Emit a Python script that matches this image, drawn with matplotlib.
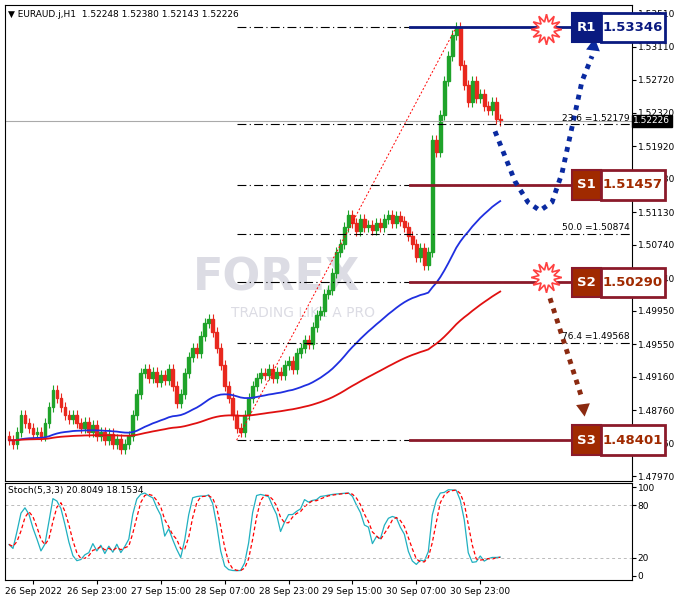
import numpy as np, pandas as pd
import matplotlib
matplotlib.use("Agg")
import matplotlib.pyplot as plt
from matplotlib.patches import Rectangle

closes = [1.4840,1.4835,1.4850,1.4870,1.4860,
 1.4855,1.4848,1.4850,1.4845,1.4860,1.4880,1.4900,
 1.4890,1.4880,1.4870,1.4865,1.4870,1.4860,1.4855,1.4862,1.4850,1.4858,
 1.4845,1.4850,1.4840,1.4848,1.4836,1.4842,1.4830,1.4835,1.4845,1.4870,
 1.4895,1.4920,1.4925,1.4915,1.4922,1.4910,1.4918,1.4912,
 1.4925,1.4905,1.4885,1.4895,1.4920,1.4940,1.4950,1.4945,
 1.4965,1.4980,1.4985,1.4970,1.4950,1.4930,
 1.4905,1.4890,1.4870,1.4855,1.4850,1.4870,
 1.4890,1.4905,1.4915,1.4920,1.4918,1.4925,1.4915,1.4922,1.4918,1.4930,
 1.4935,1.4925,1.4945,1.4950,1.4960,1.4955,1.4975,1.4990,
 1.4995,1.5015,1.5020,1.5040,1.5065,1.5075,1.5095,1.5110,1.5100,
 1.5090,1.5105,1.5095,1.5098,1.5092,1.5100,1.5095,1.5105,1.5110,1.5100,1.5108,1.5102,1.5095,
 1.5085,1.5075,1.5060,1.5070,1.5050,1.5065,
 1.5200,
 1.5185,1.5230,1.5270,1.5300,1.5325,
 1.5335,
 1.5290,1.5265,1.5245,1.5270,1.5250,1.5255,1.5240,1.5235,1.5245,1.5225,1.52226]
first_open = 1.4845
wick = 0.0006
yticks = [1.53510,1.53110,1.52720,1.52320,1.51920,1.51530,1.51130,1.50740,1.50340,
          1.49950,1.49550,1.49160,1.48760,1.48360,1.47970]
xlabels = ["26 Sep 2022","26 Sep 23:00","27 Sep 15:00","28 Sep 07:00","28 Sep 23:00",
           "29 Sep 15:00","30 Sep 07:00","30 Sep 23:00"]
xlabel_pos = [6,22,38,54,70,86,102,118]
levels = {"R1":1.53346,"S1":1.51457,"S2":1.50290,"S3":1.48401}
fib_low, fib_high = 1.4840, 1.5335
fib_pct = [0.0,23.6,38.2,50.0,61.8,76.4,100.0]
fib_show = {23.6:"23.6 =1.52179",50.0:"50.0 =1.50874",76.4:"76.4 =1.49568"}
current = 1.52226

c = np.array(closes); n = len(c)
o = np.concatenate([[first_open], c[:-1]])
h = np.maximum(o,c)+wick; l = np.minimum(o,c)-wick
s = pd.Series(c)
ma_blue = s.ewm(span=58, adjust=False).mean()
ma_red = s.ewm(span=140, adjust=False).mean()
hh = pd.Series(h).rolling(5,min_periods=1).max(); ll = pd.Series(l).rolling(5,min_periods=1).min()
k = ((s-ll).rolling(3,min_periods=1).sum()/(hh-ll).rolling(3,min_periods=1).sum()*100)
dline = k.rolling(3,min_periods=1).mean()

W,H = 678,603
fig = plt.figure(figsize=(W/100,H/100), dpi=100)
ax = fig.add_axes([5/W, 1-481/H, 627/W, 476/H])
ax2 = fig.add_axes([5/W, 1-580/H, 627/W, 97/H])
XL = (-1, 156)
ax.set_xlim(*XL); ax.set_ylim(1.47911, 1.53613)
def px(x): return XL[0] + (x-5)/627*(XL[1]-XL[0])

ax.axhline(current, color="#aaaaaa", lw=0.8)
ax.text(0.30, 0.40, "FOREX", transform=ax.transAxes, fontsize=32, fontweight="bold", color="#dcdce4", zorder=0)
ax.text(0.36, 0.345, "TRADING LIKE A PRO", transform=ax.transAxes, fontsize=10, color="#dcdce4", zorder=0)
for i in range(n):
    col = "#1fa32a" if c[i] >= o[i] else "#e8281e"
    ax.vlines(i, l[i], h[i], color=col, lw=0.8)
    ax.add_patch(Rectangle((i-0.35, min(o[i],c[i])), 0.7, max(abs(c[i]-o[i]),0.00005), color=col))
ax.plot(range(n), ma_blue, color="#1f2fe0", lw=1.3)
ax.plot(range(n), ma_red, color="#e01010", lw=1.3)
ilow = 57; ihigh = 112
ax.plot([ilow, ihigh], [fib_low, fib_high], color="red", ls=(0,(2,2)), lw=0.7)
for p in fib_pct:
    v = fib_high - (fib_high-fib_low)*p/100
    ax.plot([ilow, XL[1]], [v, v], color="black", ls=(0,(8,3,1,3)), lw=0.8)
    if p in fib_show:
        ax.text(XL[1]-0.5, v+0.0002, fib_show[p], fontsize=6.5, ha="right", va="bottom")
lcol = {"R1":"#0a1a80","S1":"#8b1a2a","S2":"#8b1a2a","S3":"#8b1a2a"}
fill = {"R1":"#0a1a80","S1":"#a02a00","S2":"#a02a00","S3":"#a02a00"}
for name,v in levels.items():
    ax.plot([px(410), px(572)], [v,v], color=lcol[name], lw=2)
    ax.add_patch(Rectangle((px(572), v-0.00175), px(601)-px(572), 0.0035, fc=fill[name], ec=lcol[name], lw=1.5, clip_on=False, zorder=5))
    ax.add_patch(Rectangle((px(601), v-0.00175), px(665)-px(601), 0.0035, fc="white", ec=lcol[name], lw=2, clip_on=False, zorder=5))
    ax.text(px(586.5), v, name, color="white", fontsize=9.5, fontweight="bold", ha="center", va="center", zorder=6, clip_on=False)
    ax.text(px(633), v, f"{v:.5f}", color=lcol[name] if name=="R1" else "#a02a00", fontsize=9.5, fontweight="bold", ha="center", va="center", zorder=6, clip_on=False)
for yv in [1.5332, 1.5035]:
    ax.plot([px(546)], [yv], marker=(12,1,0), ms=22, mfc="white", mec="#ff4040", mew=1.2, zorder=4)
xs_b = [px(x) for x in [495,505,515,528,540,552,562,572,582,592]]
ys_b = [1.5210,1.5180,1.5150,1.5125,1.5115,1.5125,1.5160,1.5215,1.5270,1.5300]
ax.plot(xs_b, ys_b, color="#0a2aa0", ls=(0,(1,1.2)), lw=3.5, clip_on=False, solid_capstyle="butt")
ax.annotate("", xy=(px(595), 1.5325), xytext=(px(592), 1.5298),
            arrowprops=dict(arrowstyle="-|>,head_width=0.5,head_length=0.9", color="#0a2aa0", lw=0), annotation_clip=False)
ax.plot([px(550), px(582)], [1.5010, 1.4890], color="#8b2a10", ls=(0,(1,1.2)), lw=3.5)
ax.annotate("", xy=(px(585), 1.4865), xytext=(px(582), 1.4892),
            arrowprops=dict(arrowstyle="-|>,head_width=0.5,head_length=0.9", color="#8b2a10", lw=0), annotation_clip=False)
ax.text(0.005, 0.99, "▼ EURAUD.j,H1  1.52248 1.52380 1.52143 1.52226", transform=ax.transAxes, fontsize=6.5, va="top")
ax.yaxis.tick_right(); ax.set_yticks(yticks); ax.set_yticklabels([f"{v:.5f}" for v in yticks], fontsize=6.5)
ax.tick_params(axis="y", length=3, pad=1)
ax.set_xticks([])
ax.text(1.002, (current-1.47911)/(1.53613-1.47911), f"{current:.5f}", transform=ax.transAxes, fontsize=6.5,
        color="white", va="center", ha="left", bbox=dict(fc="black", ec="black", pad=1))

ax2.set_xlim(*XL); ax2.set_ylim(-5, 105)
ax2.plot(range(n), k, color="#20b0c0", lw=0.9)
ax2.plot(range(n), dline, color="red", ls=(0,(3,2)), lw=0.9)
for lv in [80,20]:
    ax2.axhline(lv, color="#bbbbbb", ls=(0,(3,3)), lw=0.7)
ax2.yaxis.tick_right(); ax2.set_yticks([100,80,20,0]); ax2.set_yticklabels(["100","80","20","0"], fontsize=6.5)
ax2.tick_params(axis="y", length=3, pad=1)
ax2.set_xticks(xlabel_pos); ax2.set_xticklabels(xlabels, fontsize=6.5); ax2.tick_params(axis="x", length=3, pad=2)
ax2.text(0.005, 0.97, "Stoch(5,3,3) 20.8049 18.1534", transform=ax2.transAxes, fontsize=6.5, va="top")
fig.savefig("out.png", dpi=100)
